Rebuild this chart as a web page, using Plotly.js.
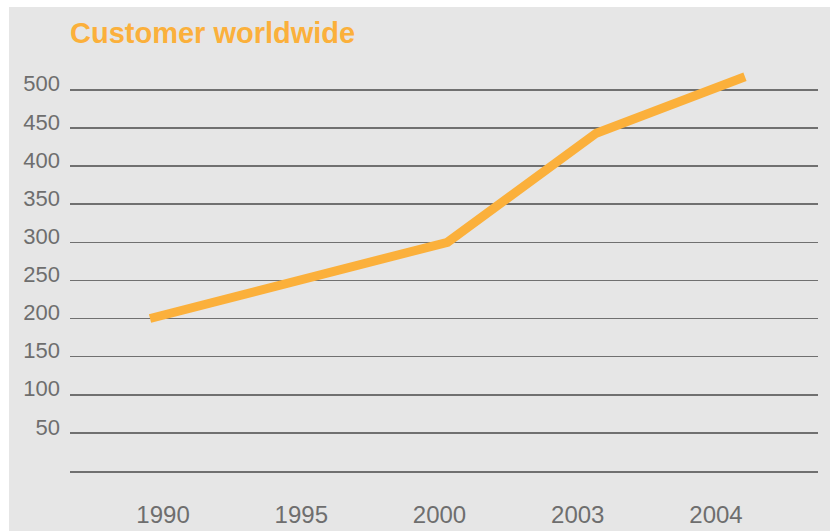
<!DOCTYPE html>
<html>
<head>
<meta charset="utf-8">
<script src="https://cdn.plot.ly/plotly-3.0.1.min.js"></script>
<style>
  html, body { margin: 0; padding: 0; background: #ffffff; width: 830px; height: 531px; overflow: hidden; }
  #chart { position: absolute; left: 9px; top: 7px; width: 821px; height: 524px; }
</style>
</head>
<body>
<div id="chart"></div>
<script>
const years = ["1990", "1995", "2000", "2003", "2004"];
const customers = [200, 250, 300, 443, 517];
const yTicks = [50, 100, 150, 200, 250, 300, 350, 400, 450, 500];
const chartTitle = "Customer worldwide";

const orange = "#FBB03B";
const gridGrey = "#707070";
const textGrey = "#6e6e6e";

// Carrier for the category tick labels (draws nothing itself)
const labelCarrier = {
  x: years,
  y: customers,
  xaxis: "x",
  yaxis: "y",
  type: "scatter",
  mode: "none",
  hoverinfo: "skip",
  showlegend: false
};

const line = {
  x: years,
  y: customers,
  xaxis: "x2",
  yaxis: "y",
  type: "scatter",
  mode: "lines",
  line: { color: orange, width: 9 },
  hoverinfo: "x+y",
  showlegend: false
};

const layout = {
  width: 821,
  height: 524,
  margin: { l: 61, r: 12, t: 37, b: 60 },
  paper_bgcolor: "#e6e6e6",
  plot_bgcolor: "#e6e6e6",
  showlegend: false,
  title: {
    text: chartTitle,
    font: { family: "Liberation Sans, Arial, sans-serif", size: 29, color: orange, weight: "bold" },
    xref: "paper", x: 0, xanchor: "left",
    yref: "container", y: 0.95, yanchor: "middle"
  },
  xaxis: {
    type: "category",
    categoryorder: "array",
    categoryarray: years,
    range: [-0.673, 4.738],
    showgrid: false,
    zeroline: false,
    showline: true,
    linecolor: gridGrey,
    linewidth: 1.5,
    ticks: "",
    ticklabelstandoff: 22,
    tickfont: { family: "Liberation Sans, Arial, sans-serif", size: 24, color: textGrey },
    fixedrange: true
  },
  xaxis2: {
    type: "category",
    categoryorder: "array",
    categoryarray: years,
    overlaying: "x",
    anchor: "y",
    range: [-0.538, 4.491],
    visible: false,
    fixedrange: true
  },
  yaxis: {
    range: [0, 560],
    tickvals: yTicks,
    showgrid: true,
    gridcolor: gridGrey,
    gridwidth: 1.5,
    zeroline: false,
    showline: false,
    ticks: "",
    ticklabelstandoff: 9,
    ticklabelshift: -6,
    tickfont: { family: "Liberation Sans, Arial, sans-serif", size: 22, color: textGrey },
    fixedrange: true
  }
};

Plotly.newPlot("chart", [labelCarrier, line], layout, { displayModeBar: false, staticPlot: true });
</script>
</body>
</html>
